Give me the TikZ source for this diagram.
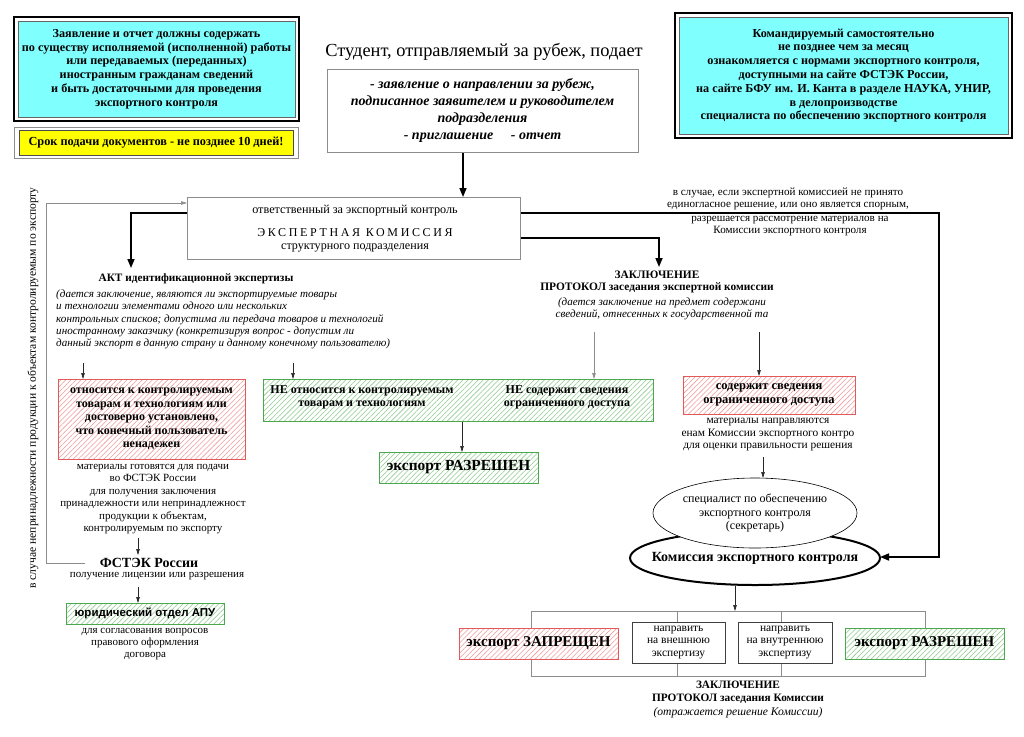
\documentclass[tikz,border=0pt]{standalone}
\usepackage{fontspec}
\setmainfont{Liberation Serif}
\newfontfamily\arialfont{Liberation Sans}
\usepackage{tikz}
\usetikzlibrary{arrows.meta}
\usetikzlibrary{patterns.meta}
\usetikzlibrary{shapes.geometric}
\pgfdeclarelayer{edgelayer}
\pgfdeclarelayer{nodelayer}
\pgfsetlayers{edgelayer,nodelayer,main}
\definecolor{Aqua}{HTML}{80FFFF}
\definecolor{Lemon}{HTML}{FFFF00}
\definecolor{HatchRed}{HTML}{F09A9A}
\definecolor{LineRed}{HTML}{E05A5A}
\definecolor{HatchGreen}{HTML}{8CCB8C}
\definecolor{LineGreen}{HTML}{4CA84C}
\definecolor{Frame}{HTML}{8C8C8C}
\tikzstyle{none}=[inner sep=0pt]
\tikzstyle{tn}=[inner sep=0pt,align=center,font=\fontsize{11}{12.4}\selectfont]
\tikzstyle{bn}=[inner sep=0pt,align=center,font=\fontsize{12}{13.5}\selectfont\bfseries]
\tikzstyle{itn}=[inner sep=0pt,align=left,font=\fontsize{11.1}{12.3}\selectfont\itshape]
\tikzstyle{cframe}=[rectangle,draw=black,line width=2pt,inner sep=0pt]
\tikzstyle{cn}=[rectangle,fill=Aqua,draw=black!60,line width=0.6pt,inner sep=0pt,align=center,font=\fontsize{12.2}{13.8}\selectfont\bfseries]
\tikzstyle{yframe}=[rectangle,draw=Frame,line width=0.8pt,inner sep=0pt]
\tikzstyle{yn}=[rectangle,fill=Lemon,draw=black!70,line width=0.6pt,inner sep=0pt,font=\fontsize{12.3}{13}\selectfont\bfseries]
\tikzstyle{wn}=[rectangle,fill=white,draw=black!75,line width=0.6pt,inner sep=0pt,align=center,font=\fontsize{11.5}{12.5}\selectfont]
\tikzstyle{rn}=[rectangle,preaction={fill=white},pattern={Lines[angle=45,distance=3.6pt,line width=0.55pt]},pattern color=HatchRed,draw=LineRed,line width=0.7pt,inner sep=0pt,align=center,font=\fontsize{12}{13.5}\selectfont\bfseries]
\tikzstyle{gn}=[rectangle,preaction={fill=white},pattern={Lines[angle=45,distance=3.6pt,line width=0.55pt]},pattern color=HatchGreen,draw=LineGreen,line width=0.7pt,inner sep=0pt,align=center,font=\fontsize{12}{13.5}\selectfont\bfseries]
\tikzstyle{en}=[ellipse,fill=white,draw=black,line width=0.6pt,inner sep=0pt,align=center,font=\fontsize{12}{13.4}\selectfont]
\tikzstyle{simple}=[-,draw=Frame,line width=0.7pt]
\tikzstyle{thin}=[-{Triangle[width=3.5pt,length=6pt]},draw=black!85,line width=0.6pt]
\tikzstyle{arrow}=[-{Triangle[width=7pt,length=9pt]},draw=black,line width=1.6pt]

\begin{document}
\begin{tikzpicture}[x=1pt,y=-1pt]
	\useasboundingbox (0,0) rectangle (1024,736);
	\begin{pgfonlayer}{nodelayer}
		\node [style=cframe, minimum width=285pt, minimum height=104pt] (0) at (156.5, 69) {};
		\node [style=cn, minimum width=277pt, minimum height=96pt] (1) at (156.5, 69) {Заявление и отчет должны содержать\\по существу исполняемой (исполненной) работы\\или передаваемых (переданных)\\иностранным гражданам сведений\\и быть достаточными для проведения\\экспортного контроля};
		\node [style=yframe, minimum width=284pt, minimum height=31pt] (2) at (156, 142.5) {};
		\node [style=yn, minimum width=274pt, minimum height=25pt] (3) at (156, 142.5) {Срок подачи документов - не позднее 10 дней!};
		\node [style=tn, font=\fontsize{18.4}{20}\selectfont] (4) at (484, 52) {Студент, отправляемый за рубеж, подает};
		\node [style=wn, draw=Frame, minimum width=311pt, minimum height=83pt, font=\fontsize{14}{16.7}\selectfont\bfseries\itshape] (5) at (482.5, 110.5) {- заявление о направлении за рубеж,\\подписанное заявителем и руководителем\\подразделения\\- приглашение \quad - отчет};
		\node [style=cframe, minimum width=337pt, minimum height=125pt] (6) at (843.5, 75.5) {};
		\node [style=cn, minimum width=329pt, minimum height=117pt] (7) at (843.5, 75.5) {Командируемый самостоятельно\\не позднее чем за месяц\\ознакомляется с нормами экспортного контроля,\\доступными на сайте ФСТЭК России,\\на сайте БФУ им. И. Канта в разделе НАУКА, УНИР,\\в делопроизводстве\\специалиста по обеспечению экспортного контроля};
		\node [style=wn, draw=Frame, minimum width=333pt, minimum height=62pt] (8) at (353.5, 228) {};
		\node [style=tn, font=\fontsize{12.2}{13}\selectfont] (9) at (355, 211) {ответственный за экспортный контроль};
		\node [style=tn, font=\fontsize{12}{13}\selectfont\addfontfeatures{LetterSpace=22}] (10) at (355, 233) {ЭКСПЕРТНАЯ КОМИССИЯ};
		\node [style=tn, font=\fontsize{12.1}{13}\selectfont] (11) at (355, 248) {структурного подразделения};
		\node [style=bn, font=\fontsize{11.3}{12}\selectfont\bfseries] (12) at (196, 279) {АКТ идентификационной экспертизы};
		\node [style=itn, anchor=west] (13) at (56, 319.5) {(дается заключение, являются ли экспортируемые товары\\и технологии элементами одного или нескольких\\контрольных списков; допустима ли передача товаров и технологий\\иностранному заказчику (конкретизируя вопрос - допустим ли\\данный экспорт в данную страну и данному конечному пользователю)};
		\node [style=tn, rotate=90, font=\fontsize{11.6}{13}\selectfont] (14) at (33, 388) {в случае непринадлежности продукции к объектам контролируемым по экспорту};
		\node [style=rn, minimum width=187pt, minimum height=80pt] (15) at (151.5, 419) {относится к контролируемым\\товарам и технологиям или\\достоверно установлено,\\что конечный пользователь\\ненадежен};
		\node [style=tn] (16) at (153, 499) {материалы готовятся для подачи\\во ФСТЭК России\\для получения заключения\\принадлежности или непринадлежност\\продукции к объектам,\\контролируемым по экспорту};
		\node [style=bn, font=\fontsize{14}{16}\selectfont\bfseries] (17) at (149, 563) {ФСТЭК России};
		\node [style=tn] (18) at (157, 576) {получение лицензии или разрешения};
		\node [style=gn, minimum width=158pt, minimum height=21pt, font=\fontsize{11.5}{13}\selectfont\arialfont\bfseries] (19) at (145, 613.5) {юридический отдел АПУ};
		\node [style=tn] (20) at (145, 644) {для согласования вопросов\\правового оформления\\договора};
		\node [style=tn, font=\fontsize{11.1}{12}\selectfont] (21) at (788, 199) {в случае, если экспертной комиссией не принято\\единогласное решение, или оно является спорным,};
		\node [style=tn, font=\fontsize{11.1}{12}\selectfont] (22) at (790, 226) {разрешается рассмотрение материалов на\\Комиссии экспортного контроля};
		\node [style=bn, font=\fontsize{11.4}{12.5}\selectfont\bfseries] (23) at (657, 282) {ЗАКЛЮЧЕНИЕ\\ПРОТОКОЛ заседания экспертной комиссии};
		\node [style=itn, align=center] (24) at (662, 309) {(дается заключение на предмет содержани\\сведений, отнесенных к государственной та};
		\node [style=gn, minimum width=390pt, minimum height=42pt] (25) at (458, 400) {};
		\node [style=bn] (26) at (362, 397.5) {НЕ относится к контролируемым\\товарам и технологиям};
		\node [style=bn] (27) at (567, 397.5) {НЕ содержит сведения\\ограниченного доступа};
		\node [style=gn, minimum width=159pt, minimum height=31pt, font=\fontsize{15.4}{17}\selectfont\bfseries] (28) at (458.5, 467.5) {экспорт РАЗРЕШЕН};
		\node [style=rn, minimum width=172pt, minimum height=38pt, font=\fontsize{12.5}{13.5}\selectfont\bfseries] (29) at (769, 395) {содержит сведения\\ограниченного доступа};
		\node [style=tn, font=\fontsize{11.4}{12.5}\selectfont] (30) at (768, 435) {материалы направляются\\енам Комиссии экспортного контро\\для оценки правильности решения};
		\node [style=en, line width=2pt, minimum width=250pt, minimum height=54pt, font=\fontsize{14}{15}\selectfont\bfseries] (31) at (755, 558) {\makebox[0pt]{\raisebox{-4pt}{Комиссия экспортного контроля}}};
		\node [style=en, minimum width=196pt, minimum height=70pt] (32) at (755, 513) {специалист по обеспечению\\экспортного контроля\\(секретарь)};
		\node [style=rn, minimum width=159pt, minimum height=31pt, font=\fontsize{15}{17}\selectfont\bfseries] (33) at (538.5, 643.5) {экспорт ЗАПРЕЩЕН};
		\node [style=wn, minimum width=93pt, minimum height=41pt] (34) at (678.5, 642.5) {направить\\на внешнюю\\экспертизу};
		\node [style=wn, minimum width=94pt, minimum height=41pt] (35) at (785, 642.5) {направить\\на внутреннюю\\экспертизу};
		\node [style=gn, minimum width=159pt, minimum height=31pt, font=\fontsize{15}{17}\selectfont\bfseries] (36) at (924.5, 643.5) {экспорт РАЗРЕШЕН};
		\node [style=bn, font=\fontsize{11.3}{13}\selectfont\bfseries] (37) at (738, 692.5) {ЗАКЛЮЧЕНИЕ\\ПРОТОКОЛ заседания Комиссии};
		\node [style=itn, align=center, font=\fontsize{11.6}{13}\selectfont\itshape] (38) at (738, 713) {(отражается решение Комиссии)};
		\node [style=none] (40) at (463, 152) {};
		\node [style=none] (41) at (463, 197) {};
		\node [style=none] (42) at (187, 213) {};
		\node [style=none] (43) at (131, 213) {};
		\node [style=none] (44) at (131, 268) {};
		\node [style=none] (45) at (520, 213) {};
		\node [style=none] (46) at (939, 213) {};
		\node [style=none] (47) at (939, 557) {};
		\node [style=none] (48) at (880, 557) {};
		\node [style=none] (49) at (520, 238) {};
		\node [style=none] (50) at (659, 238) {};
		\node [style=none] (51) at (659, 267) {};
		\node [style=none] (52) at (85, 563) {};
		\node [style=none] (53) at (46, 563) {};
		\node [style=none] (54) at (46, 203) {};
		\node [style=none] (55) at (187, 203) {};
		\node [style=none] (56) at (83, 363) {};
		\node [style=none] (57) at (83, 379) {};
		\node [style=none] (58) at (293, 363) {};
		\node [style=none] (59) at (293, 379) {};
		\node [style=none] (60) at (594, 332) {};
		\node [style=none] (61) at (594, 379) {};
		\node [style=none] (62) at (759, 332) {};
		\node [style=none] (63) at (759, 376) {};
		\node [style=none] (64) at (462, 421) {};
		\node [style=none] (65) at (462, 452) {};
		\node [style=none] (66) at (763, 457) {};
		\node [style=none] (67) at (763, 478) {};
		\node [style=none] (68) at (138, 538) {};
		\node [style=none] (69) at (138, 555) {};
		\node [style=none] (70) at (138, 587) {};
		\node [style=none] (71) at (138, 603) {};
		\node [style=none] (72) at (735, 586) {};
		\node [style=none] (73) at (735, 611) {};
		\node [style=none] (74) at (531, 611) {};
		\node [style=none] (75) at (925, 611) {};
		\node [style=none] (76) at (925, 676) {};
		\node [style=none] (77) at (531, 676) {};
		\node [style=none] (78) at (677, 611) {};
		\node [style=none] (79) at (677, 622) {};
		\node [style=none] (80) at (677, 663) {};
		\node [style=none] (81) at (677, 676) {};
		\node [style=none] (82) at (781, 611) {};
		\node [style=none] (83) at (781, 622) {};
		\node [style=none] (84) at (781, 663) {};
		\node [style=none] (85) at (781, 676) {};
	\end{pgfonlayer}
	\begin{pgfonlayer}{edgelayer}
		\draw [style=arrow] (40.center) to (41.center);
		\draw [style=arrow] (42.center) to (43.center) to (44.center);
		\draw [style=arrow] (45.center) to (46.center) to (47.center) to (48.center);
		\draw [style=arrow] (49.center) to (50.center) to (51.center);
		\draw [style=thin, draw=Frame] (52.center) to (53.center) to (54.center) to (55.center);
		\draw [style=thin] (56.center) to (57.center);
		\draw [style=thin] (58.center) to (59.center);
		\draw [style=thin, draw=Frame] (60.center) to (61.center);
		\draw [style=thin] (62.center) to (63.center);
		\draw [style=thin] (64.center) to (65.center);
		\draw [style=thin] (66.center) to (67.center);
		\draw [style=thin] (68.center) to (69.center);
		\draw [style=thin] (70.center) to (71.center);
		\draw [style=thin] (72.center) to (73.center);
		\draw [style=simple] (74.center) to (75.center) to (76.center) to (77.center) to (74.center);
		\draw [style=simple] (78.center) to (79.center);
		\draw [style=simple] (80.center) to (81.center);
		\draw [style=simple] (82.center) to (83.center);
		\draw [style=simple] (84.center) to (85.center);
	\end{pgfonlayer}
\end{tikzpicture}
\end{document}
